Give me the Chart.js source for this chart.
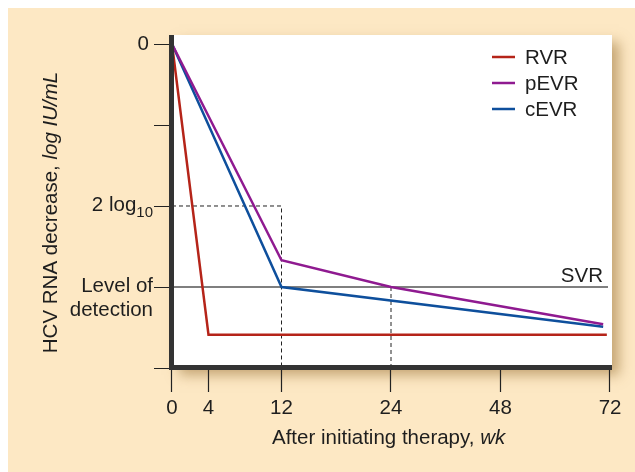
<!DOCTYPE html>
<html><head><meta charset="utf-8">
<script src="https://cdn.jsdelivr.net/npm/chart.js@4.4.1/dist/chart.umd.min.js"></script>
<style>html,body{margin:0;padding:0;background:#fff}#wrap{width:635px;height:472px}</style>
</head><body><div id="wrap"><canvas id="c" width="635" height="472"></canvas></div>
<script>
// Data (weeks after initiating therapy, log IU/mL decrease)
const xTickWeeks = [0, 4, 12, 24, 48, 72];
const xTickLabels = ['0', '4', '12', '24', '48', '72'];
const rvrWeeks = [0, 4, 71.3];
const rvrValues = [0, -3.59, -3.59];
const pevrWeeks = [0, 12, 24, 70.5];
const pevrValues = [0, -2.67, -3.0, -3.46];
const cevrWeeks = [0, 12, 70.5];
const cevrValues = [0, -3.0, -3.49];
const yTickValues = [0, -1, -2, -3, -4];
const yTickLabels = ['0', '', '2 log10', 'Level of|detection', ''];
const detectionLevel = -3;
const twoLogLevel = -2;
const seriesNames = ['RVR', 'pEVR', 'cEVR'];
const seriesColors = ['#b52419', '#8f1a90', '#0e4f9c'];

// Axis spacing of the original: 0-12 wk linear, then 12, 24, 48, 72 evenly spaced
function wkToPos(w){
  if (w <= 12) return w / 12;
  const seg = [12, 24, 48, 72];
  for (let i = 0; i < seg.length - 1; i++) {
    if (w <= seg[i+1]) return 1 + i + (w - seg[i]) / (seg[i+1] - seg[i]);
  }
  return 4;
}
function pts(ws, vs){ return ws.map((w,i)=>({x: wkToPos(w), y: vs[i]})); }

const FONT = '"Liberation Sans", Arial, sans-serif';
const FS = '20.5px ';
const TXT = '#1e1e1e';

const decor = {
  id: 'decor',
  beforeDraw(chart){
    const ctx = chart.ctx, a = chart.chartArea;
    ctx.save();
    ctx.fillStyle = '#ffffff';
    ctx.fillRect(0,0,chart.width,chart.height);
    ctx.fillStyle = '#fde8c4';
    ctx.fillRect(8,8,chart.width-8,chart.height-8);
    // white panel with shadow
    ctx.shadowColor = 'rgba(150,110,50,0.55)';
    ctx.shadowBlur = 12;
    ctx.shadowOffsetX = 7;
    ctx.shadowOffsetY = 7;
    ctx.fillStyle = '#ffffff';
    ctx.fillRect(a.left, a.top, a.right - a.left, a.bottom - a.top);
    ctx.restore();

    const xs = chart.scales.x, ys = chart.scales.y;
    ctx.save();
    // level of detection / SVR line
    const yd = ys.getPixelForValue(detectionLevel);
    ctx.strokeStyle = '#555';
    ctx.lineWidth = 1.5;
    ctx.beginPath(); ctx.moveTo(a.left, yd); ctx.lineTo(a.right - 4, yd); ctx.stroke();
    ctx.fillStyle = TXT;
    ctx.font = FS + FONT;
    ctx.textAlign = 'right'; ctx.textBaseline = 'alphabetic';
    ctx.fillText('SVR', a.right - 9, yd - 4.5);
    // dashed guides
    ctx.strokeStyle = '#222';
    ctx.lineWidth = 1;
    ctx.setLineDash([4,3]);
    const y2 = ys.getPixelForValue(twoLogLevel);
    const x12 = xs.getPixelForValue(wkToPos(12));
    const x24 = xs.getPixelForValue(wkToPos(24));
    ctx.beginPath();
    ctx.moveTo(a.left, y2); ctx.lineTo(x12, y2); ctx.lineTo(x12, a.bottom);
    ctx.moveTo(x24, yd); ctx.lineTo(x24, a.bottom);
    ctx.stroke();
    ctx.restore();
  },
  afterDatasetsDraw(chart){
    const ctx = chart.ctx, a = chart.chartArea;
    const xs = chart.scales.x, ys = chart.scales.y;
    ctx.save();
    // tick marks
    ctx.strokeStyle = '#222'; ctx.lineWidth = 1.2;
    ctx.beginPath();
    yTickValues.forEach(v => { const y = Math.round(ys.getPixelForValue(v)) + 0.5; ctx.moveTo(a.left - 18, y); ctx.lineTo(a.left, y); });
    xTickWeeks.forEach(w => { const x = Math.round(xs.getPixelForValue(wkToPos(w))) - 0.5; ctx.moveTo(x, a.bottom); ctx.lineTo(x, a.bottom + 24); });
    ctx.stroke();
    // thick axes
    ctx.strokeStyle = '#333'; ctx.lineWidth = 5; ctx.lineCap = 'butt';
    ctx.beginPath();
    ctx.moveTo(a.left - 0.5, a.top); ctx.lineTo(a.left - 0.5, a.bottom + 2);
    ctx.moveTo(a.left - 3, a.bottom - 0.5); ctx.lineTo(a.right, a.bottom - 0.5);
    ctx.stroke();
    // x tick labels
    ctx.fillStyle = TXT; ctx.font = FS + FONT;
    ctx.textAlign = 'center'; ctx.textBaseline = 'middle';
    xTickWeeks.forEach((w,i) => ctx.fillText(xTickLabels[i], xs.getPixelForValue(wkToPos(w)), 408));
    // y tick labels
    ctx.textAlign = 'right';
    yTickValues.forEach((v,i) => {
      const lab = yTickLabels[i]; if (!lab) return;
      const y = ys.getPixelForValue(v);
      const rx = a.left - 19;
      if (lab.indexOf('log10') >= 0) {
        ctx.font = '15px ' + FONT;
        const sw = ctx.measureText('10').width;
        ctx.fillText('10', rx, y + 7);
        ctx.font = FS + FONT;
        ctx.fillText('2 log', rx - sw, y - 1);
      } else if (lab.indexOf('|') >= 0) {
        const parts = lab.split('|');
        ctx.fillText(parts[0], rx, y - 1);
        ctx.fillText(parts[1], rx, y + 23);
      } else {
        ctx.fillText(lab, rx - 4, y);
      }
    });
    // x title
    ctx.textBaseline = 'alphabetic'; ctx.textAlign = 'left';
    const t1 = 'After initiating therapy, ', t2 = 'wk';
    ctx.font = FS + FONT; const w1 = ctx.measureText(t1).width;
    ctx.font = 'italic ' + FS + FONT; const w2 = ctx.measureText(t2).width;
    let sx = 272;
    ctx.font = FS + FONT; ctx.fillText(t1, sx, 444);
    ctx.font = 'italic ' + FS + FONT; ctx.fillText(t2, sx + w1, 444);
    // y title
    ctx.translate(57, 212.5); ctx.rotate(-Math.PI/2);
    const u1 = 'HCV RNA decrease, ', u2 = 'log IU/mL';
    ctx.font = FS + FONT; const v1 = ctx.measureText(u1).width;
    ctx.font = 'italic ' + FS + FONT; const v2 = ctx.measureText(u2).width;
    sx = -(v1 + v2) / 2;
    ctx.font = FS + FONT; ctx.fillText(u1, sx, 0);
    ctx.font = 'italic ' + FS + FONT; ctx.fillText(u2, sx + v1, 0);
    ctx.setTransform(1,0,0,1,0,0);
    // legend
    ctx.textAlign = 'left'; ctx.textBaseline = 'middle'; ctx.font = FS + FONT;
    chart.data.datasets.forEach((ds,i) => {
      const y = 57 + i * 26;
      ctx.strokeStyle = ds.borderColor; ctx.lineWidth = 2.5;
      ctx.beginPath(); ctx.moveTo(492, y); ctx.lineTo(515, y); ctx.stroke();
      ctx.fillStyle = TXT; ctx.fillText(ds.label, 525, y + 1);
    });
    ctx.restore();
  }
};

new Chart(document.getElementById('c'), {
  type: 'line',
  data: {
    datasets: [
      { label: seriesNames[0], data: pts(rvrWeeks, rvrValues), borderColor: seriesColors[0] },
      { label: seriesNames[1], data: pts(pevrWeeks, pevrValues), borderColor: seriesColors[1] },
      { label: seriesNames[2], data: pts(cevrWeeks, cevrValues), borderColor: seriesColors[2] }
    ]
  },
  options: {
    responsive: false, animation: false,
    devicePixelRatio: 1,
    layout: { padding: { top: 35, right: 23, left: 0, bottom: 0 } },
    elements: { line: { borderWidth: 2.5, tension: 0, fill: false }, point: { radius: 0 } },
    plugins: { legend: { display: false }, tooltip: { enabled: false } },
    scales: {
      x: { type: 'linear', min: 0, max: 4.018, display: true,
           ticks: { display: false }, grid: { display: false }, border: { display: false },
           afterFit(s){ s.height = 104; } },
      y: { type: 'linear', min: -4, max: 0.111, display: true,
           ticks: { display: false }, grid: { display: false }, border: { display: false },
           afterFit(s){ s.width = 172; } }
    }
  },
  plugins: [decor]
});
</script></body></html>
